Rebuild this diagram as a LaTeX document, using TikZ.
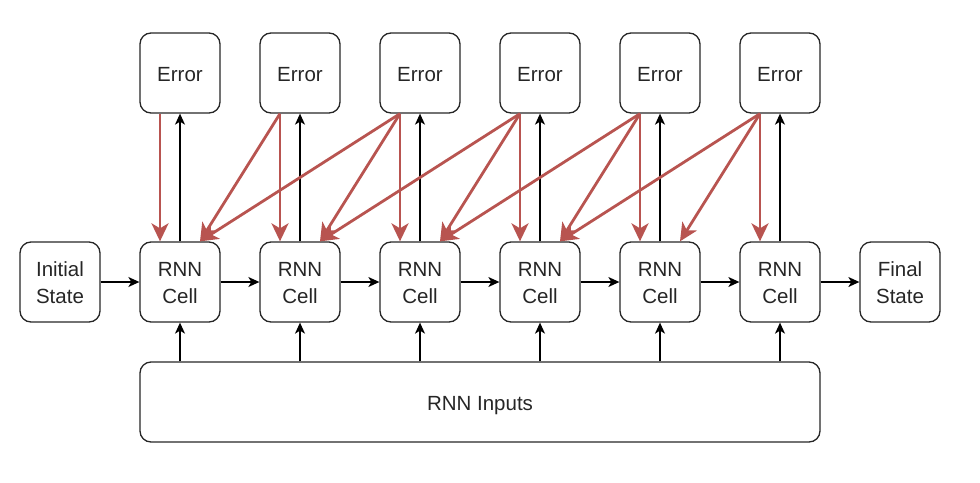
\documentclass[tikz,border=0pt]{standalone}
\usepackage{fontspec}
\setmainfont{Liberation Sans}
\usetikzlibrary{arrows.meta}
\definecolor{errred}{RGB}{184,84,80}
\newcommand\boxtext[1]{\raisebox{-3pt}[\height][\depth]{\begin{tabular}{@{}c@{}}#1\end{tabular}}}
\begin{document}
\begin{tikzpicture}[x=1pt,y=-1pt,
  box/.style={draw=black!85,line width=1.3pt,rounded corners=11pt,minimum width=80pt,minimum height=80pt,inner sep=0pt,font=\fontsize{20.5}{27}\selectfont,text=black!85},
  blk/.style={draw=black,line width=1.3pt,-{Stealth[length=11pt,width=10pt,inset=3pt]}},
  red/.style={draw=errred,line width=2.8pt,-{Stealth[length=18pt,width=17pt,inset=5pt]}}]
\useasboundingbox (0,0) rectangle (980,482);
\node[box] (init) at (60,282) {\boxtext{Initial\\State}};
\node[box] (fin) at (900,282) {\boxtext{Final\\State}};
\foreach \i in {1,...,6}{
  \node[box] (c\i) at ({60+120*\i},282) {\boxtext{RNN\\Cell}};
  \node[box] (e\i) at ({60+120*\i},73) {\boxtext{Error}};
}
\node[box,minimum width=680pt] (in) at (480,402) {\boxtext{RNN Inputs}};
% horizontal chain
\draw[blk] (init) -- (c1);
\foreach \i/\j in {1/2,2/3,3/4,4/5,5/6}{\draw[blk] (c\i) -- (c\j);}
\draw[blk] (c6) -- (fin);
% inputs and errors
\foreach \i in {1,...,6}{
  \draw[blk] (in.north -| c\i.south) -- (c\i.south);
  \draw[blk] (c\i.north) -- (e\i.south);
}
% red arrows
\foreach \i in {1,...,6}{
  \draw[red] ([xshift=-20pt]e\i.south) -- ([xshift=-20pt]c\i.north);
}
\foreach \i/\j in {2/1,3/2,4/3,5/4,6/5,3/1,4/2,5/3,6/4}{
  \draw[red] ([xshift=-20pt]e\i.south) -- ([xshift=20pt]c\j.north);
}
\end{tikzpicture}
\end{document}
